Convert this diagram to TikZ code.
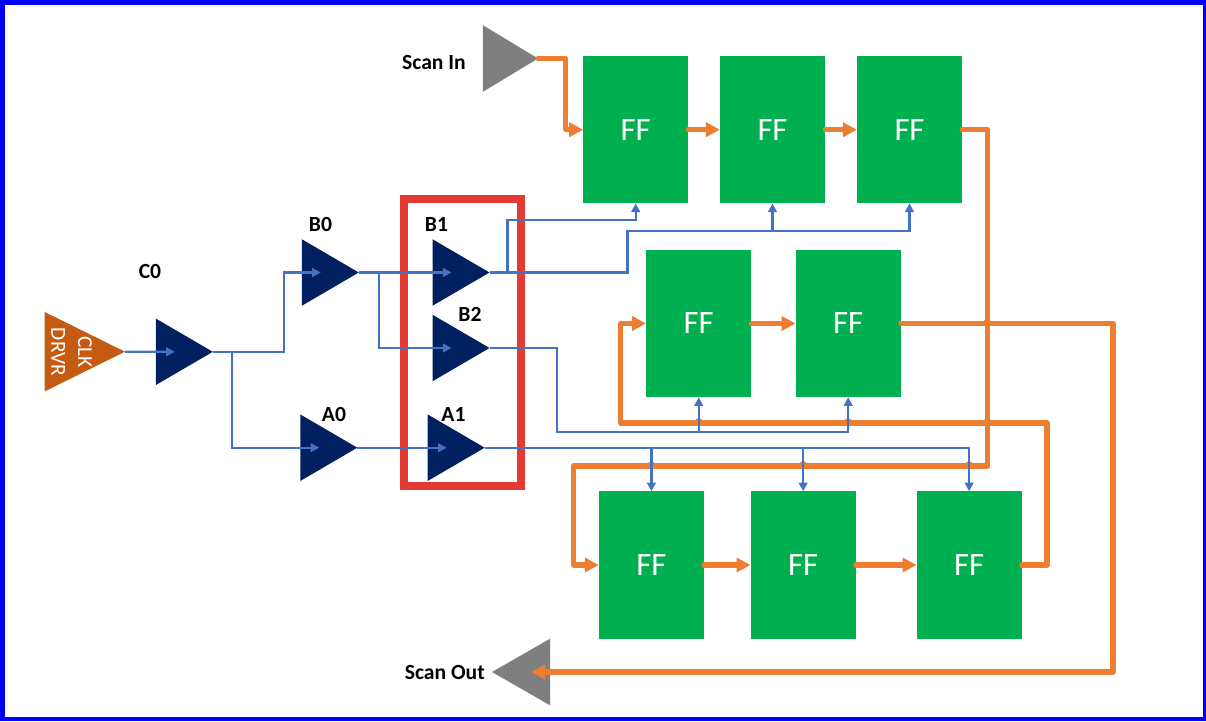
\documentclass[tikz,border=0pt]{standalone}
\usepackage{fontspec}
\setmainfont{Carlito}
\usetikzlibrary{shapes.geometric,arrows.meta,calc}
\definecolor{navy}{HTML}{002060}
\definecolor{ffgreen}{HTML}{00B050}
\definecolor{wire}{HTML}{4472C4}
\definecolor{scan}{HTML}{ED7D31}
\definecolor{redbox}{HTML}{E33B33}
\definecolor{clk}{HTML}{C55A11}
\definecolor{scangray}{HTML}{7F7F7F}
\tikzset{
  tri/.style={isosceles triangle, isosceles triangle stretches=true, draw=none,
     inner sep=0pt, outer sep=0pt, anchor=apex, minimum width=49.9pt, minimum height=42.75pt},
  buf/.style={tri, fill=navy},
  gate/.style={tri, fill=scangray},
  ff/.style={rectangle, fill=ffgreen, draw=none, inner sep=0pt, outer sep=0pt,
     minimum width=78.9pt, minimum height=110.6pt, text=white, font=\fontsize{24.5}{24.5}\selectfont},
  lbl/.style={inner sep=0pt, font=\bfseries\fontsize{16.2}{17}\selectfont, text=black},
  clkw/.style={draw=wire, line width=1.8pt, line join=miter, -{Triangle[length=6.5pt,width=6.5pt]}},
  sw/.style={draw=scan, line width=3.8pt, line cap=round, line join=round,
     -{Triangle[length=10.5pt,width=10.5pt]}},
  hop/.style={fill=scan, draw=none},
}
\begin{document}
\begin{tikzpicture}[x=0.75pt,y=-0.75pt]
\useasboundingbox (0,0) rectangle (1206,721);
\fill[blue] (0,0) rectangle (1206,721);
\fill[white] (5,5) rectangle (1203,717);

% red frame
\draw[redbox, line width=6pt] (404,199) rectangle (521,486);

% flip-flops
\node[ff] (t1) at (635.7,129.7) {FF};
\node[ff] (t2) at (772.5,129.7) {FF};
\node[ff] (t3) at (909.5,129.7) {FF};
\node[ff] (m1) at (698.7,323.5) {FF};
\node[ff] (m2) at (848.2,323.5) {FF};
\node[ff] (b1) at (651.4,565) {FF};
\node[ff] (b2) at (803.1,565) {FF};
\node[ff] (b3) at (969.1,565) {FF};

% buffers
\node[tri, fill=clk, minimum width=59.5pt, minimum height=60.2pt] (clkd) at (125,351.7) {};
\node[buf] (c0) at (212.8,351.8) {};
\node[buf] (b0t) at (358.8,272.5) {};
\node[buf] (b1t) at (489.5,272.5) {};
\node[buf] (b2t) at (489.5,348) {};
\node[buf] (a0t) at (357.3,447.7) {};
\node[buf] (a1t) at (484.7,447.7) {};
\node[gate, minimum height=41.3pt] (si) at (538,58.5) {};
\node[gate, minimum height=43.5pt, shape border rotate=180] (so) at (492,672) {};

\node[text=white, rotate=-90, align=center, inner sep=0pt,
      font=\fontsize{16}{20}\selectfont] (clktxt) at (71.6,352) {CLK\\DRVR};

% labels
\node[lbl] (lc0) at (150,271) {C0};
\node[lbl] (lb0) at (320.5,224.5) {B0};
\node[lbl] (lb1) at (436.5,224.5) {B1};
\node[lbl] (lb2) at (470,314.5) {B2};
\node[lbl] (la0) at (334,414.5) {A0};
\node[lbl] (la1) at (453.5,414.5) {A1};
\node[lbl, anchor=east] (lsi) at (466,62) {Scan In};
\node[lbl, anchor=east] (lso) at (485,672) {Scan Out};

% scan chain
\path[sw] (si.apex) -- (565.7,58.5) -- (565.7,129.7) -- (t1.west);
\path[sw] (t1.east) -- (t2.west);
\path[sw] (t2.east) -- (t3.west);
\path[sw] (t3.east) -- (987.3,129.7) -- (987.3,466) -- (573.7,466) -- (573.7,565) -- (b1.west);
\path[sw] (b1.east) -- (b2.west);
\path[sw] (b2.east) -- (b3.west);
\path[sw] (b3.east) -- (1047,565) -- (1047,423) -- (620.8,423) -- (620.8,323.5) -- (m1.west);
\path[sw] (m1.east) -- (m2.west);
\path[sw] (m2.east) -- (1113,323.5) -- (1113,672) -- ($(so.apex)+(39,0)$);

% line hops on the scan chain
\foreach \hx/\hy in {698.7/422,848.2/422,987.3/422,987.3/322.5,651.4/465,803.1/465,969.1/465}
  \fill[hop] (\hx,\hy) circle (2.9pt);

% clock tree
\path[clkw] (clkd.apex) -- ($(c0.lower side)+(19,0)$);
\path[clkw] (c0.apex) -- (284,351.8) -- (284,272.5) -- ($(b0t.lower side)+(19,0)$);
\path[clkw] (232,351.8) -- (232,447.7) -- ($(a0t.lower side)+(19,0)$);
\path[clkw] (b0t.apex) -- ($(b1t.lower side)+(19,0)$);
\path[clkw] (378.8,272.5) -- (378.8,348) -- ($(b2t.lower side)+(19,0)$);
\path[clkw] (a0t.apex) -- ($(a1t.lower side)+(19,0)$);

\path[clkw] (b1t.apex) -- (507.3,272.5) -- (507.3,220) -- (635.7,220) -- (t1.south);
\path[clkw] (b1t.apex) -- (627.3,272.5) -- (627.3,231) -- (909.5,231) -- (t3.south);
\path[clkw] (772.5,231) -- (t2.south);

\path[clkw] (b2t.apex) -- (556.7,348) -- (556.7,431.7) -- (848.2,431.7) -- (m2.south);
\path[clkw] (698.7,431.7) -- (m1.south);

\path[clkw] (a1t.apex) -- (969.1,447.7) -- (b3.north);
\path[clkw] (651.4,447.7) -- (b1.north);
\path[clkw] (803.1,447.7) -- (b2.north);
\end{tikzpicture}
\end{document}
